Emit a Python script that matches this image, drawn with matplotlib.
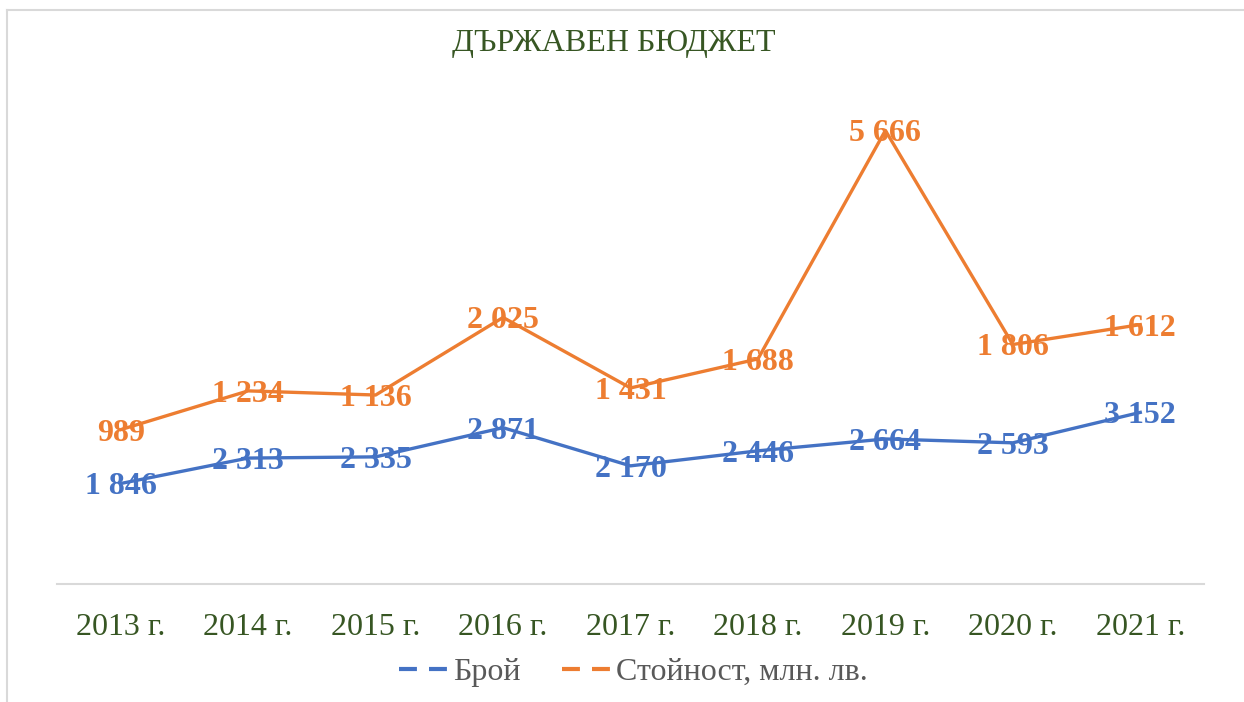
import numpy as np
import matplotlib.pyplot as plt
from matplotlib.lines import Line2D

years = ["2013 г.", "2014 г.", "2015 г.", "2016 г.", "2017 г.", "2018 г.", "2019 г.", "2020 г.", "2021 г."]
count = [1846, 2313, 2335, 2871, 2170, 2446, 2664, 2593, 3152]
value = [989, 1234, 1136, 2025, 1431, 1688, 5666, 1806, 1612]

blue = "#4472C4"
orange = "#ED7D31"
green = "#375623"

plt.rcParams["font.family"] = ["Liberation Serif", "DejaVu Serif"]

fig = plt.figure(figsize=(12.44, 7.02), dpi=100)
ax = fig.add_axes([57 / 1244, 118 / 702, (1204 - 57) / 1244, 490 / 702])

x = np.arange(len(years))
count = np.array(count)
value = np.array(value)
# stacked line chart: second series sits on top of the first
stacked = count + value

ax.plot(x, count, color=blue, lw=2.4)
ax.plot(x, stacked, color=orange, lw=2.4)


def fmt(v):
    return f"{v:,}".replace(",", " ")


for xi, yi, v in zip(x, count, count):
    ax.annotate(fmt(v), (xi, yi), xytext=(0, -2.5), textcoords="offset points",
                color=blue, fontsize=23, fontweight="bold",
                ha="center", va="center")
for xi, yi, v in zip(x, stacked, value):
    ax.annotate(fmt(v), (xi, yi), xytext=(0, -2.5), textcoords="offset points",
                color=orange, fontsize=23, fontweight="bold",
                ha="center", va="center")

ax.set_xlim(-0.5, len(years) - 0.5)
ax.set_ylim(0, 9000)
ax.set_xticks(x)
ax.set_xticklabels(years, color=green, fontsize=23)
ax.tick_params(axis="x", length=0, pad=21)
ax.set_yticks([])
for s in ["top", "right", "left"]:
    ax.spines[s].set_visible(False)
ax.spines["bottom"].set_color("#d9d9d9")
ax.spines["bottom"].set_linewidth(1.5)

fig.text(0.493, 1 - 43 / 702, "ДЪРЖАВЕН БЮДЖЕТ", color=green, fontsize=23,
         ha="center", va="center")

handles = [Line2D([], [], color=blue, lw=3, dashes=(4.3, 2.9)),
           Line2D([], [], color=orange, lw=3, dashes=(4.3, 2.9))]
fig.legend(handles, ["Брой", "Стойност, млн. лв."], loc="center",
           bbox_to_anchor=(0.509, 1 - 672 / 702), ncol=2, frameon=False,
           fontsize=23, labelcolor="#595959", handlelength=1.6,
           handletextpad=0.1, columnspacing=1.3)

# chart frame (left and top edges)
fig.add_artist(Line2D([7 / 1244, 7 / 1244], [0, 1 - 10 / 702],
                      color="#d9d9d9", lw=1.5, transform=fig.transFigure))
fig.add_artist(Line2D([7 / 1244, 1], [1 - 10 / 702, 1 - 10 / 702],
                      color="#d9d9d9", lw=1.5, transform=fig.transFigure))

fig.savefig("out.png", dpi=100)
